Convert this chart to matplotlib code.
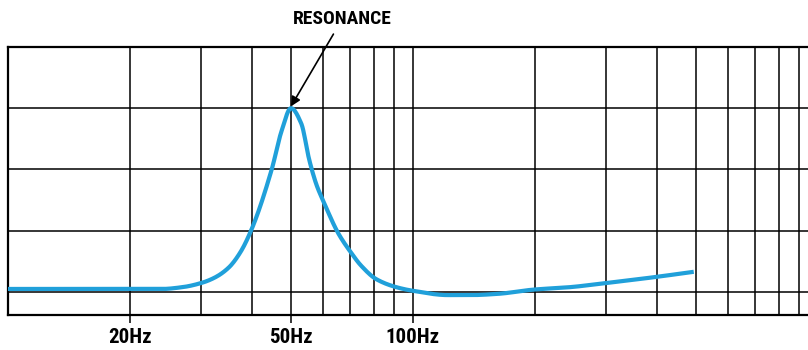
import numpy as np
import matplotlib.pyplot as plt
from matplotlib.ticker import FixedLocator, NullFormatter
from matplotlib import font_manager

# response curve (Hz, grid units)
freq = [10, 15, 20, 24, 27, 30.1, 32.5, 35.1, 37.5, 40, 44.8, 47.4, 50, 53, 55.5, 57.8, 60.4, 65.4,
        70.4, 74.5, 81.2, 90.9, 100, 122, 139, 162, 199, 245, 294, 392, 494]
level = [0.05, 0.05, 0.05, 0.05, 0.08, 0.15, 0.24, 0.4, 0.65, 1.03, 2.0, 2.63, 3.0, 2.75, 2.15, 1.75, 1.45, 0.96,
         0.64, 0.43, 0.21, 0.08, 0.02, -0.05, -0.05, -0.03, 0.04, 0.08, 0.14, 0.24, 0.33]

grid_freqs = [20, 30, 40, 50, 60, 70, 80, 90, 100, 200, 300, 400, 500, 600, 700, 800, 900]
grid_levels = [0, 1, 2, 3]
tick_freqs = [20, 50, 100]
tick_labels = ['20Hz', '50Hz', '100Hz']

names = set(f.name for f in font_manager.fontManager.ttflist)
cond = [n for n in ['Liberation Sans Narrow', 'DejaVu Sans Condensed', 'Roboto Condensed'] if n in names]
lab_font = cond[:1] + ['DejaVu Sans']


def pchip(x, y, xn):
    x = np.asarray(x, float)
    y = np.asarray(y, float)
    h = np.diff(x)
    d = np.diff(y) / h
    m = np.zeros_like(y)
    for i in range(1, len(x) - 1):
        if d[i - 1] * d[i] > 0:
            w1 = 2 * h[i] + h[i - 1]
            w2 = h[i] + 2 * h[i - 1]
            m[i] = (w1 + w2) / (w1 / d[i - 1] + w2 / d[i])
    m[0] = d[0]
    m[-1] = d[-1]
    idx = np.clip(np.searchsorted(x, xn) - 1, 0, len(x) - 2)
    t = (xn - x[idx]) / h[idx]
    h00 = 2 * t**3 - 3 * t**2 + 1
    h10 = t**3 - 2 * t**2 + t
    h01 = -2 * t**3 + 3 * t**2
    h11 = t**3 - t**2
    return h00 * y[idx] + h10 * h[idx] * m[idx] + h01 * y[idx + 1] + h11 * h[idx] * m[idx + 1]


fig = plt.figure(figsize=(8.08, 3.5), dpi=100)
ax = fig.add_axes([0.0099, 0.1, 0.9901, 0.766])

ax.set_xscale('log')
ax.set_xlim(10, 946)
ax.set_ylim(-0.375, 4)

lf = np.log10(freq)
xs = np.linspace(lf[0], lf[-1], 800)
ys = pchip(lf, level, xs)
ax.plot(10 ** xs, ys, color='#20a0da', lw=3, solid_capstyle='butt', zorder=3)

for f in grid_freqs:
    ax.axvline(f, color='black', lw=1.1, zorder=2)
for g in grid_levels:
    ax.axhline(g, color='black', lw=1.1, zorder=2)

ax.xaxis.set_major_locator(FixedLocator(tick_freqs))
ax.set_xticklabels(tick_labels)
ax.xaxis.set_minor_locator(FixedLocator([]))
ax.xaxis.set_minor_formatter(NullFormatter())
ax.set_yticks([])
ax.tick_params(axis='x', length=6, width=1.1, pad=3.5, labelsize=15)
for t in ax.get_xticklabels():
    t.set_family(lab_font)
    t.set_fontweight('bold')
    t.set_fontstretch('condensed')

for s in ['left', 'top', 'bottom']:
    ax.spines[s].set_linewidth(1.6)
ax.spines['right'].set_visible(False)

ax.annotate('RESONANCE', xy=(50, 3.03), xytext=(67, 4.46), textcoords='data',
            ha='center', va='center', fontsize=14, fontweight='bold', family=lab_font,
            fontstretch='condensed', annotation_clip=False,
            arrowprops=dict(arrowstyle='-|>', color='black', lw=1.2, mutation_scale=14,
                            shrinkA=3, shrinkB=0))

fig.savefig('out.png', dpi=100)
